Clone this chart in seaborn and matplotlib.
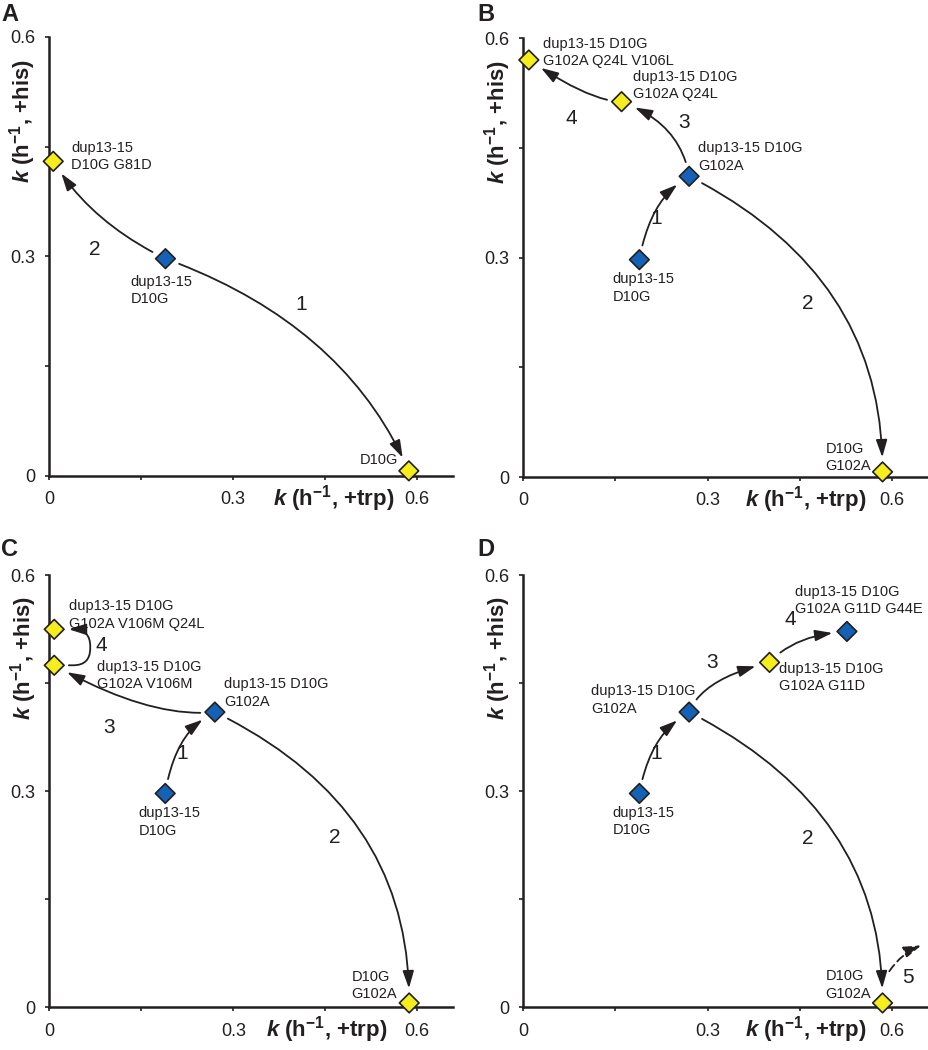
import numpy as np
import pandas as pd
import matplotlib.pyplot as plt
import seaborn as sns

sns.set_theme(style="ticks")
plt.rcParams['font.family'] = ['Liberation Sans', 'DejaVu Sans']
plt.rcParams.update({
    'mathtext.fontset': 'custom',
    'mathtext.rm': 'Liberation Sans',
    'mathtext.it': 'Liberation Sans:italic',
    'mathtext.bf': 'Liberation Sans:bold',
    'mathtext.bfit': 'Liberation Sans:italic:bold',
})

INK = '#231f20'
PHENO_COLORS = {'blue': '#1462b5', 'yellow': '#f5ee1c'}

# === datos: tasas de crecimiento (h^-1) en +trp / +his ===
# A
a_trp = [0.19, 0.007, 0.587]
a_his = [0.297, 0.43, 0.007]
a_pheno = ['blue', 'yellow', 'yellow']
a_names = ['dup13-15\nD10G', 'dup13-15\nD10G G81D', 'D10G']
a_steps = [(0, 2, '1'), (0, 1, '2')]

# B
b_trp = [0.189, 0.27, 0.16, 0.009, 0.585]
b_his = [0.297, 0.411, 0.513, 0.57, 0.007]
b_pheno = ['blue', 'blue', 'yellow', 'yellow', 'yellow']
b_names = ['dup13-15\nD10G', 'dup13-15 D10G\nG102A', 'dup13-15 D10G\nG102A Q24L',
           'dup13-15 D10G\nG102A Q24L V106L', 'D10G\nG102A']
b_steps = [(0, 1, '1'), (1, 4, '2'), (1, 2, '3'), (2, 3, '4')]

# C
c_trp = [0.189, 0.27, 0.008, 0.008, 0.587]
c_his = [0.297, 0.41, 0.475, 0.525, 0.006]
c_pheno = ['blue', 'blue', 'yellow', 'yellow', 'yellow']
c_names = ['dup13-15\nD10G', 'dup13-15 D10G\nG102A', 'dup13-15 D10G\nG102A V106M',
           'dup13-15 D10G\nG102A V106M Q24L', 'D10G\nG102A']
c_steps = [(0, 1, '1'), (1, 4, '2'), (1, 2, '3'), (2, 3, '4')]

# D
d_trp = [0.189, 0.27, 0.401, 0.527, 0.585]
d_his = [0.297, 0.41, 0.479, 0.522, 0.006]
d_pheno = ['blue', 'blue', 'yellow', 'blue', 'yellow']
d_names = ['dup13-15\nD10G', 'dup13-15 D10G\nG102A', 'dup13-15 D10G\nG102A G11D',
           'dup13-15 D10G\nG102A G11D G44E', 'D10G\nG102A']
d_steps = [(0, 1, '1'), (1, 4, '2'), (1, 2, '3'), (2, 3, '4')]
# paso 5 (discontinuo, sale del grafico)
d_step5_from = (0.596, 0.05)
d_step5_to = (0.648, 0.086)

ticks = [0, 0.15, 0.3, 0.45, 0.6]
tick_labels = ['0', '', '0.3', '', '0.6']

XLAB = r'$\mathbfit{k}$ (h$^{\mathbf{-1}}$, +trp)'
YLAB = r'$\mathbfit{k}$ (h$^{\mathbf{-1}}$, +his)'

# === estilo / posiciones (pixeles de desplazamiento de etiquetas) ===
a_lab = [(-35, -31.5, 'left'), (18, 5, 'left'), (-10.7, 11, 'right')]
b_lab = [(-26.7, -28.2, 'left'), (9.3, 19.3, 'left'), (11.7, 15.9, 'left'),
         (14.3, 7.8, 'left'), (-11.3, 14.5, 'right')]
c_lab = [(-26.7, -28.7, 'left'), (9.3, 19.2, 'left'), (42.7, -10.5, 'left'),
         (14.3, 14.3, 'left'), (-12, 17.2, 'right')]
d_lab = [(-26.7, -28.2, 'left'), (-98.3, 12.2, 'left'), (9.3, -15.3, 'left'),
         (-52.3, 31.2, 'left'), (-11.3, 17.8, 'right')]

a_conn = ['angle3,angleA=-20,angleB=-66', 'angle3,angleA=154,angleB=122']
b_conn = ['angle3,angleA=80,angleB=30', 'angle3,angleA=-27,angleB=-90',
          'angle3,angleA=99,angleB=159', 'angle3,angleA=180,angleB=146']
c_conn = ['angle3,angleA=81,angleB=26', 'angle3,angleA=-26,angleB=-90',
          'angle3,angleA=186,angleB=151', 'arc,angleA=0,angleB=0,armA=36,armB=36,rad=17']
d_conn = ['angle3,angleA=80,angleB=30', 'angle3,angleA=-27,angleB=-90',
          'angle3,angleA=69,angleB=14', 'angle3,angleA=48,angleB=4']

a_num = [(0.412, 0.234), (0.075, 0.31)]
b_num = [(0.216, 0.354), (0.464, 0.237), (0.262, 0.484), (0.078, 0.49)]
c_num = [(0.216, 0.353), (0.466, 0.236), (0.098, 0.388), (0.085, 0.502)]
d_num = [(0.216, 0.353), (0.464, 0.235), (0.307, 0.479), (0.435, 0.539)]

ARROW = dict(arrowstyle='-|>,head_length=1.05,head_width=0.34', color=INK, lw=1.3,
             mutation_scale=10, shrinkA=10.5, shrinkB=10.5)


def draw_panel(ax, trp, his, pheno, names, steps, lab, conns, nums, xlab_x):
    df = pd.DataFrame({'trp': trp, 'his': his, 'pheno': pheno})
    sns.scatterplot(data=df, x='trp', y='his', hue='pheno', palette=PHENO_COLORS,
                    marker='D', s=100, edgecolor=INK, linewidth=1.2, legend=False,
                    ax=ax, zorder=5, clip_on=False)

    for i, name in enumerate(names):
        dx, dy, ha = lab[i]
        ax.annotate(name, (trp[i], his[i]), xytext=(dx, dy), textcoords='offset pixels',
                    ha=ha, va='center', multialignment='left', fontsize=10.5,
                    color=INK, linespacing=1.3)

    for (i, j, num), conn, (nx, ny) in zip(steps, conns, nums):
        ax.annotate('', xy=(trp[j], his[j]), xytext=(trp[i], his[i]),
                    arrowprops=dict(ARROW, connectionstyle=conn))
        ax.text(nx, ny, num, fontsize=15, ha='center', va='center', color=INK)

    ax.set_xlim(0, 0.659)
    ax.set_ylim(0, 0.6)
    ax.set_xticks(ticks, tick_labels)
    ax.set_yticks(ticks, tick_labels)
    ax.set_xlabel('')
    ax.set_ylabel('')
    sns.despine(ax=ax)
    for s in ['left', 'bottom']:
        ax.spines[s].set_linewidth(1.8)
        ax.spines[s].set_color(INK)
    ax.tick_params(direction='out', length=3, width=1.2, colors=INK, labelsize=13,
                   bottom=True, left=True)
    ax.tick_params(axis='x', pad=8)
    ax.tick_params(axis='y', pad=7)

    ax.annotate(XLAB, xy=(xlab_x, 0), xycoords=ax.get_xaxis_transform(),
                xytext=(0, -29.5), textcoords='offset pixels', ha='center',
                va='baseline', fontsize=16, fontweight='bold', color=INK)
    ax.annotate(YLAB, xy=(0, 0.485), xytext=(-26, 0), textcoords='offset pixels',
                rotation=90, ha='center', va='center', fontsize=16,
                fontweight='bold', color=INK)


fig = plt.figure(figsize=(9.29, 10.5), dpi=100)
ax_a = fig.add_axes([0.0527, 0.5467, 0.4349, 0.4181])
ax_b = fig.add_axes([0.5633, 0.5457, 0.4356, 0.4181])
ax_c = fig.add_axes([0.0531, 0.0407, 0.4349, 0.4114])
ax_d = fig.add_axes([0.5633, 0.0407, 0.4356, 0.4114])

draw_panel(ax_a, a_trp, a_his, a_pheno, a_names, a_steps, a_lab, a_conn, a_num, 0.465)
draw_panel(ax_b, b_trp, b_his, b_pheno, b_names, b_steps, b_lab, b_conn, b_num, 0.46)
draw_panel(ax_c, c_trp, c_his, c_pheno, c_names, c_steps, c_lab, c_conn, c_num, 0.452)
draw_panel(ax_d, d_trp, d_his, d_pheno, d_names, d_steps, d_lab, d_conn, d_num, 0.46)

# paso 5 en D: flecha discontinua hacia fuera del grafico
ax_d.annotate('', xy=d_step5_to, xytext=d_step5_from, annotation_clip=False,
              arrowprops=dict(ARROW, shrinkA=0, shrinkB=0, linestyle=(0, (4.5, 2.5)),
                              connectionstyle='arc3,rad=-0.15'))
ax_d.text(0.627, 0.042, '5', fontsize=15, ha='center', va='center', color=INK)

for letter, (fx, fy) in zip('ABCD', [(0.001, 0.997), (0.5135, 0.997),
                                     (0.001, 0.4876), (0.5135, 0.4876)]):
    fig.text(fx, fy, letter, fontsize=17, fontweight='bold', ha='left', va='top', color=INK)

fig.savefig('out.png', dpi=100)
